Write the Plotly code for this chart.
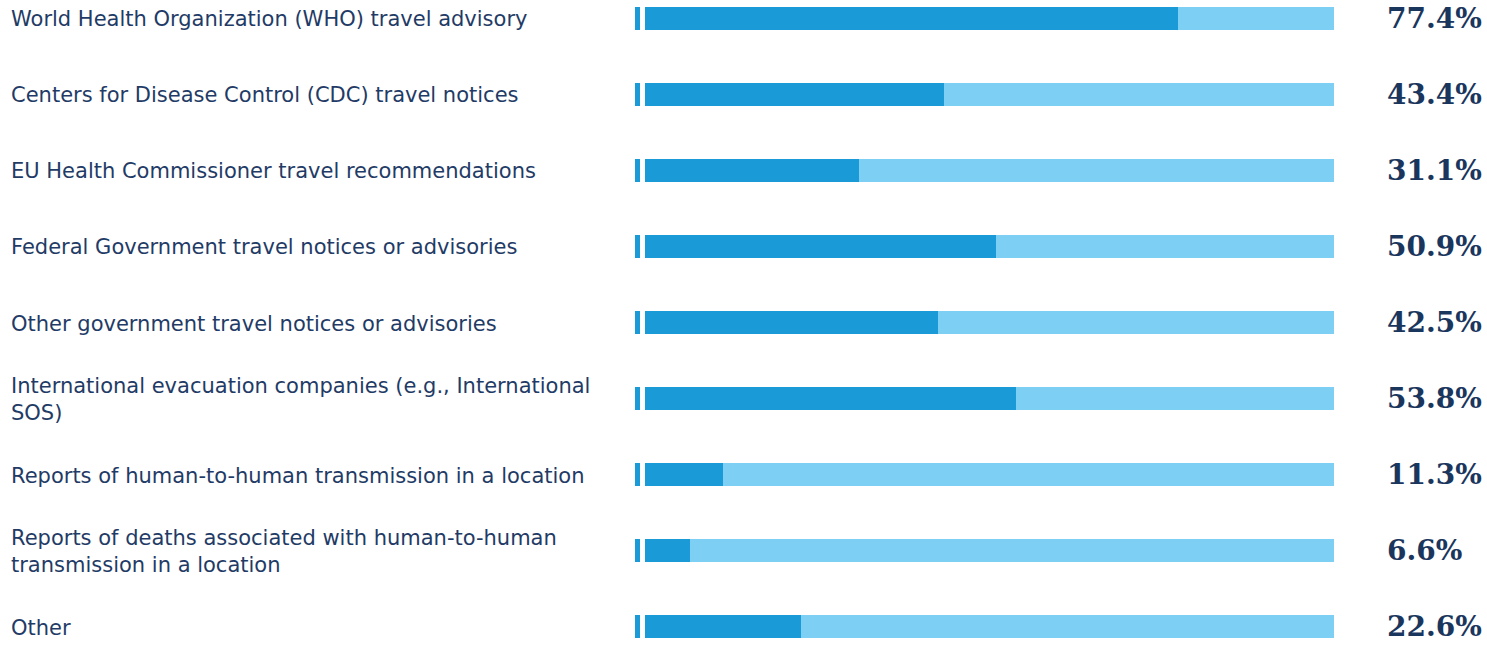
import plotly.graph_objects as go

categories = [
    "World Health Organization (WHO) travel advisory",
    "Centers for Disease Control (CDC) travel notices",
    "EU Health Commissioner travel recommendations",
    "Federal Government travel notices or advisories",
    "Other government travel notices or advisories",
    "International evacuation companies (e.g., International<br>SOS)",
    "Reports of human-to-human transmission in a location",
    "Reports of deaths associated with human-to-human<br>transmission in a location",
    "Other",
]
values = [77.4, 43.4, 31.1, 50.9, 42.5, 53.8, 11.3, 6.6, 22.6]
value_labels = [f"{v:.1f}%" for v in values]

W, H = 1487, 645
DARK = "#1a9ad6"
LIGHT = "#7dd0f4"
NAVY_TXT = "#1f3b66"
NAVY_VAL = "#1b365d"

rest = [100 - v for v in values]

fig = go.Figure()
# small leading tick
fig.add_trace(go.Bar(y=categories, x=[0.73] * len(categories), base=[-1.45] * len(categories),
                     orientation="h", marker=dict(color=DARK, line=dict(width=0)),
                     width=0.303, hoverinfo="skip", showlegend=False))
fig.add_trace(go.Bar(y=categories, x=values, base=[0] * len(values), orientation="h",
                     marker=dict(color=DARK, line=dict(width=0)), width=0.303,
                     showlegend=False))
fig.add_trace(go.Bar(y=categories, x=rest, base=values, orientation="h",
                     marker=dict(color=LIGHT, line=dict(width=0)), width=0.303,
                     showlegend=False))

annotations = []
for c, lab in zip(categories, value_labels):
    annotations.append(dict(x=9 / W, xref="paper", y=c, yref="y", text=c, yshift=-1,
                            xanchor="left", yanchor="middle", align="left", showarrow=False,
                            font=dict(family="DejaVu Sans", size=21, color=NAVY_TXT)))
    annotations.append(dict(x=1385 / W, xref="paper", y=c, yref="y", text=f"<b>{lab}</b>",
                            xanchor="left", yanchor="middle", align="left", showarrow=False,
                            font=dict(family="DejaVu Serif", size=28, color=NAVY_VAL)))

fig.update_layout(
    width=W, height=H,
    margin=dict(l=0, r=0, t=0, b=0),
    paper_bgcolor="white", plot_bgcolor="white",
    barmode="overlay", bargap=0,
    xaxis=dict(domain=[635 / W, 1334 / W], range=[-1.45, 100], visible=False, fixedrange=True),
    yaxis=dict(type="category", categoryorder="array", categoryarray=categories,
               range=[8.243, -0.243], visible=False, fixedrange=True),
    annotations=annotations,
)

fig.write_html("out.html", config={"displayModeBar": False},
               post_script="document.body.style.margin='0';document.body.style.overflow='hidden';")
